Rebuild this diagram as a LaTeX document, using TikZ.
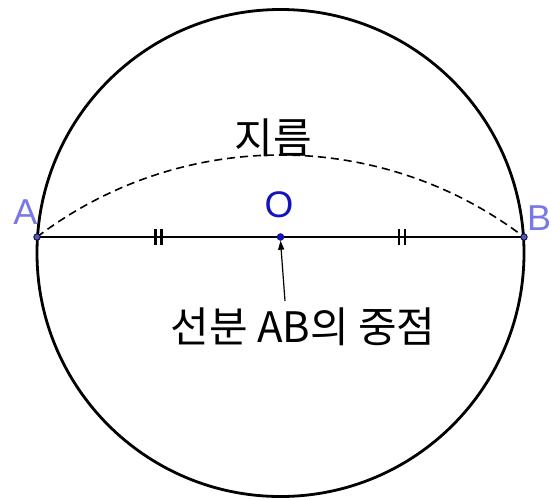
\documentclass[tikz,border=0pt]{standalone}
\usepackage{fontspec}
\setmainfont{Liberation Sans}
\newfontfamily\kofont{Noto Sans CJK KR}
\usetikzlibrary{arrows.meta}
\definecolor{lblblue}{RGB}{120,120,230}
\definecolor{oblue}{RGB}{20,20,190}
\definecolor{ptfill}{RGB}{90,90,170}
\tikzset{
  ptstyle/.style={circle,draw=black!70!blue,fill=ptfill,line width=0.8pt,inner sep=0pt,minimum size=6.5pt},
  tick/.style={line width=2.6pt},
  lbl/.style={text=lblblue,font=\fontsize{36}{36}\selectfont,inner sep=0pt},
  kotext/.style={font=\kofont\fontsize{42}{42}\selectfont,inner sep=0pt}
}
\begin{document}
\begin{tikzpicture}[x=1pt,y=-1pt]
\useasboundingbox (0,0) rectangle (552,499);
\fill[white] (0,0) rectangle (552,499);
% circle
\node[circle,draw=black,line width=2.8pt,minimum size=487pt,inner sep=0pt] (circ) at (280.5,253) {};
% points
\coordinate (A) at (37,237);
\coordinate (B) at (524,237);
\coordinate (M) at (280.5,237);
% dashed arc
\draw[dash pattern=on 8pt off 5pt,line width=1.6pt] (A) arc[start angle=-127.23,end angle=-52.77,radius=402.5];
% segment
\draw[line width=2.4pt] (A) -- (B);
% tick marks
\draw[tick] (155.5,229) -- (155.5,245) (161.5,229) -- (161.5,245);
\draw[tick] (399,229) -- (399,245) (405,229) -- (405,245);
% point marks
\node[ptstyle] (pA) at (A) {};
\node[ptstyle] (pB) at (B) {};
\node[circle,fill=oblue,draw=oblue!70!black,inner sep=0pt,minimum size=7pt] (pM) at (M) {};
% labels
\node[lbl] (lA) at (25.5,212) {A};
\node[lbl,anchor=west] (lB) at (527,218) {B};
\node[text=oblue,font=\fontsize{37}{37}\selectfont,inner sep=0pt] (lO) at (279,205) {O};
\node[kotext] (diam) at (273,138) {지름};
\node[kotext] (mid) at (303,327) {선분 AB의 중점};
% arrow
\coordinate (arrS) at (285,301);
\draw[line width=1.2pt,-{Triangle[length=9pt,width=6pt]}] (arrS) -- (pM.south);
\end{tikzpicture}
\end{document}
